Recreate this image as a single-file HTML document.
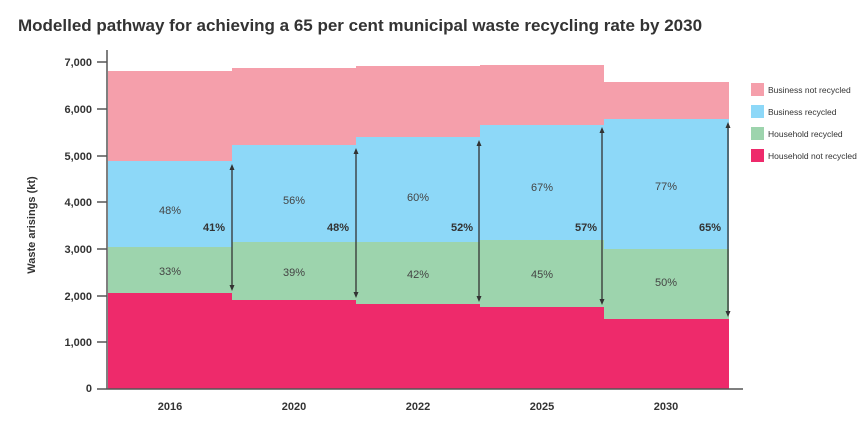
<!DOCTYPE html><html><head><style>body{margin:0;background:#fff;font-family:"Liberation Sans",sans-serif}</style></head><body>
<svg width="864" height="433" xmlns="http://www.w3.org/2000/svg" font-family="Liberation Sans, sans-serif">
<text x="18" y="31" font-size="17" font-weight="bold" fill="#333">Modelled pathway for achieving a 65 per cent municipal waste recycling rate by 2030</text>
<g>
<!-- 2016 -->
<rect x="108" y="71" width="124" height="90" fill="#f59fab"/><rect x="108" y="161" width="124" height="86" fill="#8dd8f8"/><rect x="108" y="247" width="124" height="46" fill="#9dd4ad"/><rect x="108" y="293" width="124" height="96" fill="#ee2a6b"/>
<!-- 2020 -->
<rect x="232" y="68" width="124" height="77" fill="#f59fab"/><rect x="232" y="145" width="124" height="97" fill="#8dd8f8"/><rect x="232" y="242" width="124" height="58" fill="#9dd4ad"/><rect x="232" y="300" width="124" height="89" fill="#ee2a6b"/>
<!-- 2022 -->
<rect x="356" y="66" width="124" height="71" fill="#f59fab"/><rect x="356" y="137" width="124" height="105" fill="#8dd8f8"/><rect x="356" y="242" width="124" height="62" fill="#9dd4ad"/><rect x="356" y="304" width="124" height="85" fill="#ee2a6b"/>
<!-- 2025 -->
<rect x="480" y="65" width="124" height="60" fill="#f59fab"/><rect x="480" y="125" width="124" height="115" fill="#8dd8f8"/><rect x="480" y="240" width="124" height="67" fill="#9dd4ad"/><rect x="480" y="307" width="124" height="82" fill="#ee2a6b"/>
<!-- 2030 -->
<rect x="604" y="82" width="125" height="37" fill="#f59fab"/><rect x="604" y="119" width="125" height="130" fill="#8dd8f8"/><rect x="604" y="249" width="125" height="70" fill="#9dd4ad"/><rect x="604" y="319" width="125" height="70" fill="#ee2a6b"/>
</g>
<g stroke="#555" stroke-width="1.5">
<line x1="107" y1="50" x2="107" y2="389"/><line x1="97" y1="389" x2="743" y2="389"/>
<line x1="97" y1="62" x2="107" y2="62"/><line x1="97" y1="109" x2="107" y2="109"/><line x1="97" y1="156" x2="107" y2="156"/><line x1="97" y1="202" x2="107" y2="202"/><line x1="97" y1="249" x2="107" y2="249"/><line x1="97" y1="296" x2="107" y2="296"/><line x1="97" y1="342" x2="107" y2="342"/>
</g>
<g font-size="11" font-weight="bold" fill="#333" text-anchor="end">
<text x="92" y="66">7,000</text><text x="92" y="113">6,000</text><text x="92" y="160">5,000</text><text x="92" y="206">4,000</text><text x="92" y="253">3,000</text><text x="92" y="300">2,000</text><text x="92" y="346">1,000</text><text x="92" y="392">0</text>
</g>
<text transform="translate(35,225) rotate(-90)" font-size="11" font-weight="bold" fill="#333" text-anchor="middle">Waste arisings (kt)</text>
<g font-size="11" font-weight="bold" fill="#333" text-anchor="middle">
<text x="170" y="410">2016</text><text x="294" y="410">2020</text><text x="418" y="410">2022</text><text x="542" y="410">2025</text><text x="666" y="410">2030</text>
</g>
<g font-size="11" fill="#444" text-anchor="middle">
<text x="170" y="214">48%</text><text x="170" y="275">33%</text>
<text x="294" y="204">56%</text><text x="294" y="276">39%</text>
<text x="418" y="201">60%</text><text x="418" y="278">42%</text>
<text x="542" y="191">67%</text><text x="542" y="278">45%</text>
<text x="666" y="190">77%</text><text x="666" y="286">50%</text>
</g>
<g font-size="11" font-weight="bold" fill="#333" text-anchor="middle">
<text x="214" y="231">41%</text><text x="338" y="231">48%</text><text x="462" y="231">52%</text><text x="586" y="231">57%</text><text x="710" y="231">65%</text>
</g>
<g stroke="#333" stroke-width="1.3" fill="#333">
<line x1="232" y1="168" x2="232" y2="287"/><path d="M229.5 170 L232 164 L234.5 170Z M229.5 285 L232 291 L234.5 285Z" stroke="none"/>
<line x1="356" y1="152" x2="356" y2="294"/><path d="M353.5 154 L356 148 L358.5 154Z M353.5 292 L356 298 L358.5 292Z" stroke="none"/>
<line x1="479" y1="144" x2="479" y2="298"/><path d="M476.5 146 L479 140 L481.5 146Z M476.5 296 L479 302 L481.5 296Z" stroke="none"/>
<line x1="602" y1="131" x2="602" y2="301"/><path d="M599.5 133 L602 127 L604.5 133Z M599.5 299 L602 305 L604.5 299Z" stroke="none"/>
<line x1="728" y1="126" x2="728" y2="313"/><path d="M725.5 128 L728 122 L730.5 128Z M725.5 311 L728 317 L730.5 311Z" stroke="none"/>
</g>
<rect x="751" y="83" width="13" height="13" fill="#f59fab"/><rect x="751" y="105" width="13" height="13" fill="#8dd8f8"/><rect x="751" y="127" width="13" height="13" fill="#9dd4ad"/><rect x="751" y="149" width="13" height="13" fill="#ee2a6b"/>
<g font-size="8.5" fill="#333"><text x="768" y="93">Business not recycled</text><text x="768" y="115">Business recycled</text><text x="768" y="137">Household recycled</text><text x="768" y="159">Household not recycled</text></g>
</svg></body></html>
